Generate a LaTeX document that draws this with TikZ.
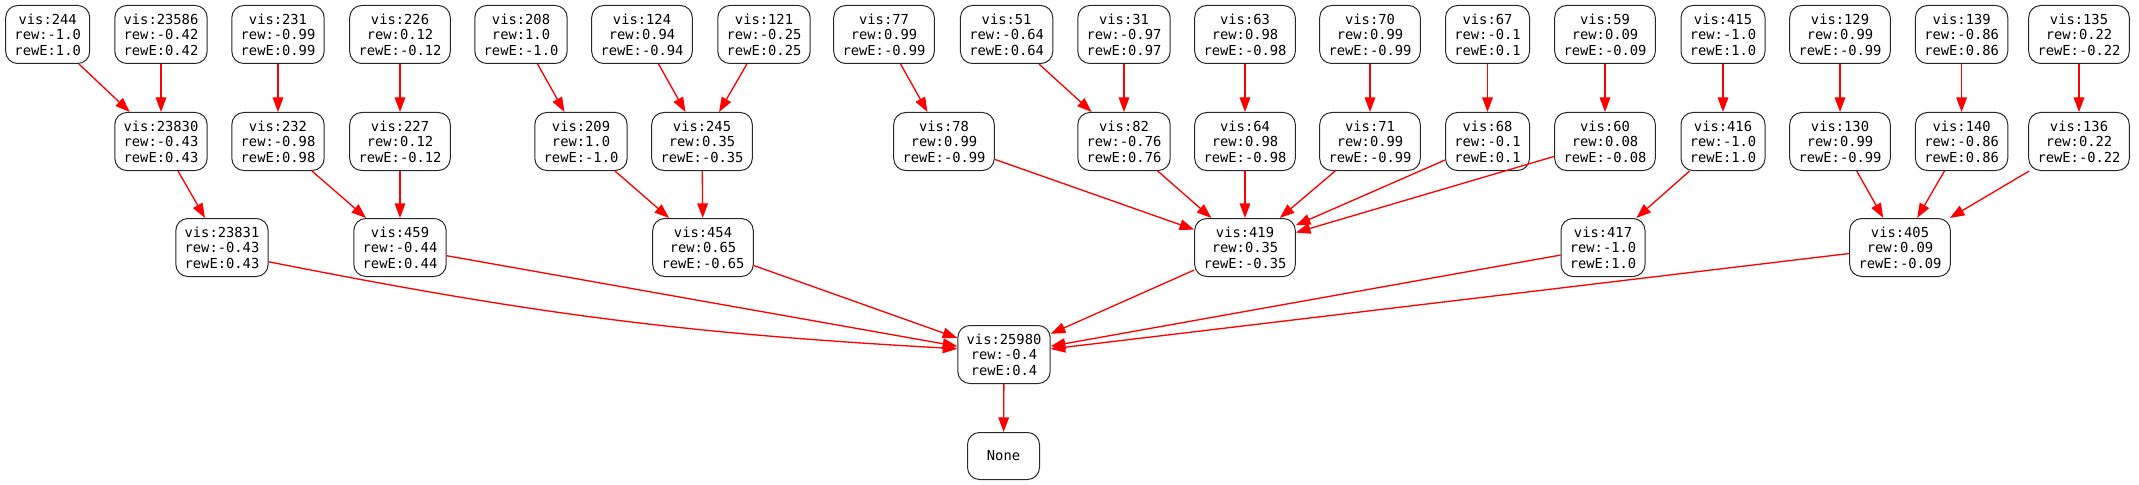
\documentclass[tikz,border=0pt]{standalone}
\usepackage{fontspec}
\setmonofont{DejaVu Sans Mono}
\usetikzlibrary{arrows.meta}
\definecolor{boxline}{RGB}{40,40,40}
\begin{document}
\begin{tikzpicture}[x=0.75pt,y=-0.75pt,
  nd/.style={draw=boxline, line width=0.75pt, rounded corners=9pt, fill=white,
    font=\ttfamily\fontsize{10.34pt}{11.6pt}\selectfont, align=center,
    inner xsep=6.6pt, inner ysep=0pt, minimum height=43.5pt},
  ed/.style={draw=red, line width=1pt, -{Triangle[length=11pt,width=8pt]}}]
\useasboundingbox (0,0) rectangle (2139,485);
% row 1
\node[nd] (n244) at (47.7,34.5) {vis:244\\rew:-1.0\\rewE:1.0};
\node[nd] (n23586) at (161,34.5) {vis:23586\\rew:-0.42\\rewE:0.42};
\node[nd] (n231) at (278,34.5) {vis:231\\rew:-0.99\\rewE:0.99};
\node[nd] (n226) at (400,34.5) {vis:226\\rew:0.12\\rewE:-0.12};
\node[nd] (n208) at (521,34.5) {vis:208\\rew:1.0\\rewE:-1.0};
\node[nd] (n124) at (642,34.5) {vis:124\\rew:0.94\\rewE:-0.94};
\node[nd] (n121) at (764,34.5) {vis:121\\rew:-0.25\\rewE:0.25};
\node[nd] (n77) at (884,34.5) {vis:77\\rew:0.99\\rewE:-0.99};
\node[nd] (n51) at (1006.6,34.5) {vis:51\\rew:-0.64\\rewE:0.64};
\node[nd] (n31) at (1124,34.5) {vis:31\\rew:-0.97\\rewE:0.97};
\node[nd] (n63) at (1245,34.5) {vis:63\\rew:0.98\\rewE:-0.98};
\node[nd] (n70) at (1370,34.5) {vis:70\\rew:0.99\\rewE:-0.99};
\node[nd] (n67) at (1487.5,34.5) {vis:67\\rew:-0.1\\rewE:0.1};
\node[nd] (n59) at (1605,34.5) {vis:59\\rew:0.09\\rewE:-0.09};
\node[nd] (n415) at (1723,34.5) {vis:415\\rew:-1.0\\rewE:1.0};
\node[nd] (n129) at (1840,34.5) {vis:129\\rew:0.99\\rewE:-0.99};
\node[nd] (n139) at (1961.6,34.5) {vis:139\\rew:-0.86\\rewE:0.86};
\node[nd] (n135) at (2079,34.5) {vis:135\\rew:0.22\\rewE:-0.22};
% row 2
\node[nd] (n23830) at (161,141.5) {vis:23830\\rew:-0.43\\rewE:0.43};
\node[nd] (n232) at (278,141.5) {vis:232\\rew:-0.98\\rewE:0.98};
\node[nd] (n227) at (400,141.5) {vis:227\\rew:0.12\\rewE:-0.12};
\node[nd] (n209) at (581,141.5) {vis:209\\rew:1.0\\rewE:-1.0};
\node[nd] (n245) at (702,141.5) {vis:245\\rew:0.35\\rewE:-0.35};
\node[nd] (n78) at (944,141.5) {vis:78\\rew:0.99\\rewE:-0.99};
\node[nd] (n82) at (1124,141.5) {vis:82\\rew:-0.76\\rewE:0.76};
\node[nd] (n64) at (1245,141.5) {vis:64\\rew:0.98\\rewE:-0.98};
\node[nd] (n71) at (1370,141.5) {vis:71\\rew:0.99\\rewE:-0.99};
\node[nd] (n68) at (1487.5,141.5) {vis:68\\rew:-0.1\\rewE:0.1};
\node[nd] (n60) at (1605,141.5) {vis:60\\rew:0.08\\rewE:-0.08};
\node[nd] (n416) at (1723,141.5) {vis:416\\rew:-1.0\\rewE:1.0};
\node[nd] (n130) at (1840,141.5) {vis:130\\rew:0.99\\rewE:-0.99};
\node[nd] (n140) at (1961.6,141.5) {vis:140\\rew:-0.86\\rewE:0.86};
\node[nd] (n136) at (2079,141.5) {vis:136\\rew:0.22\\rewE:-0.22};
% row 3
\node[nd] (n23831) at (222,247.5) {vis:23831\\rew:-0.43\\rewE:0.43};
\node[nd] (n459) at (400,247.5) {vis:459\\rew:-0.44\\rewE:0.44};
\node[nd] (n454) at (703,247.5) {vis:454\\rew:0.65\\rewE:-0.65};
\node[nd] (n419) at (1245,247.5) {vis:419\\rew:0.35\\rewE:-0.35};
\node[nd] (n417) at (1603,247.5) {vis:417\\rew:-1.0\\rewE:1.0};
\node[nd] (n405) at (1900,247.5) {vis:405\\rew:0.09\\rewE:-0.09};
% row 4
\node[nd] (n25980) at (1004,354.5) {vis:25980\\rew:-0.4\\rewE:0.4};
\node[nd, minimum height=35.25pt, minimum width=54pt] (nNone) at (1003.5,456) {None};
% edges
\draw[ed] (n244) -- (n23830);
\draw[ed] (n23586) -- (n23830);
\draw[ed] (n231) -- (n232);
\draw[ed] (n226) -- (n227);
\draw[ed] (n208) -- (n209);
\draw[ed] (n124) -- (n245);
\draw[ed] (n121) -- (n245);
\draw[ed] (n77) -- (n78);
\draw[ed] (n51) -- (n82);
\draw[ed] (n31) -- (n82);
\draw[ed] (n63) -- (n64);
\draw[ed] (n70) -- (n71);
\draw[ed] (n67) -- (n68);
\draw[ed] (n59) -- (n60);
\draw[ed] (n415) -- (n416);
\draw[ed] (n129) -- (n130);
\draw[ed] (n139) -- (n140);
\draw[ed] (n135) -- (n136);
\draw[ed] (n23830) -- (n23831);
\draw[ed] (n232) -- (n459);
\draw[ed] (n227) -- (n459);
\draw[ed] (n209) -- (n454);
\draw[ed] (n245) -- (n454);
\draw[ed] (n78) -- (n419);
\draw[ed] (n82) -- (n419);
\draw[ed] (n64) -- (n419);
\draw[ed] (n71) -- (n419);
\draw[ed] (n68) -- (n419);
\draw[ed] (n60) -- (n419);
\draw[ed] (n416) -- (n417);
\draw[ed] (n130) -- (n405);
\draw[ed] (n140) -- (n405);
\draw[ed] (n136) -- (n405);
\draw[ed] (n23831.-17) to[bend right=4] (n25980.173);
\draw[ed] (n459) -- (n25980);
\draw[ed] (n454) -- (n25980);
\draw[ed] (n419) -- (n25980);
\draw[ed] (n417) -- (n25980);
\draw[ed] (n405) -- (n25980);
\draw[ed] (n25980) -- (nNone);
\end{tikzpicture}
\end{document}
